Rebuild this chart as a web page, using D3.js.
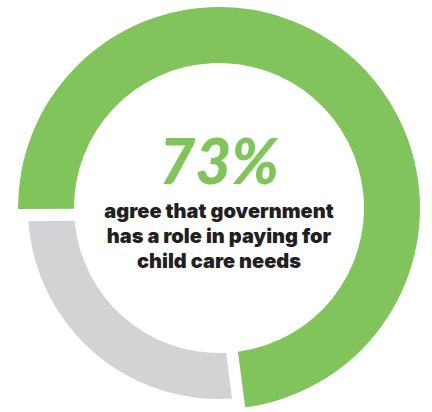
<!DOCTYPE html>
<html>
<head>
<meta charset="utf-8">
<script src="https://cdn.jsdelivr.net/npm/d3@7"></script>
<style>
  html, body { margin: 0; padding: 0; background: #fff; }
</style>
</head>
<body>
<svg id="chart"></svg>
<script>
// share of respondents
const categories = ['agree', 'other'];
const shares = [73, 27];
const headline = '73%';
const captionLines = ['agree that government', 'has a role in paying for', 'child care needs'];

const width = 432;
const height = 412;
const cx = 219;
const cy = 208;

const color = d3.scaleOrdinal().domain(categories).range(['#81c45b', '#d1d3d4']);
const outer = d3.scaleOrdinal().domain(categories).range([201, 191]);
// the gap is cut out of the grey slice only, green keeps its full 73%
const pad = d3.scaleOrdinal().domain(categories).range([0, 0.24]);

const svg = d3.select('#chart')
  .attr('width', width)
  .attr('height', height);

const g = svg.append('g').attr('transform', `translate(${cx},${cy})`);

// green starts at 9 o'clock and runs clockwise
const start = -90.3 * Math.PI / 180;
const pie = d3.pie()
  .sort(null)
  .value((d) => d.value)
  .startAngle(start)
  .endAngle(start + 2 * Math.PI);

const arc = d3.arc()
  .innerRadius(145)
  .outerRadius((d) => outer(d.data.key))
  .padAngle((d) => pad(d.data.key))
  .padRadius(100);

const data = categories.map((key, i) => ({ key, value: shares[i] }));

g.selectAll('path')
  .data(pie(data))
  .join('path')
  .attr('d', arc)
  .attr('fill', (d) => color(d.data.key));

g.append('text')
  .attr('x', 0)
  .attr('y', -24)
  .attr('text-anchor', 'middle')
  .style('font-family', 'Lato, sans-serif')
  .style('font-weight', 900)
  .style('font-style', 'italic')
  .style('font-size', '62px')
  .style('fill', '#81c45b')
  .text(headline);

g.selectAll('text.caption')
  .data(captionLines)
  .join('text')
  .attr('class', 'caption')
  .attr('x', 0)
  .attr('y', (d, i) => 10 + i * 25)
  .attr('text-anchor', 'middle')
  .style('font-family', 'Inter, sans-serif')
  .style('font-weight', 900)
  .style('font-size', '20px')
  .style('fill', '#231f20')
  .text((d) => d);
</script>
</body>
</html>
